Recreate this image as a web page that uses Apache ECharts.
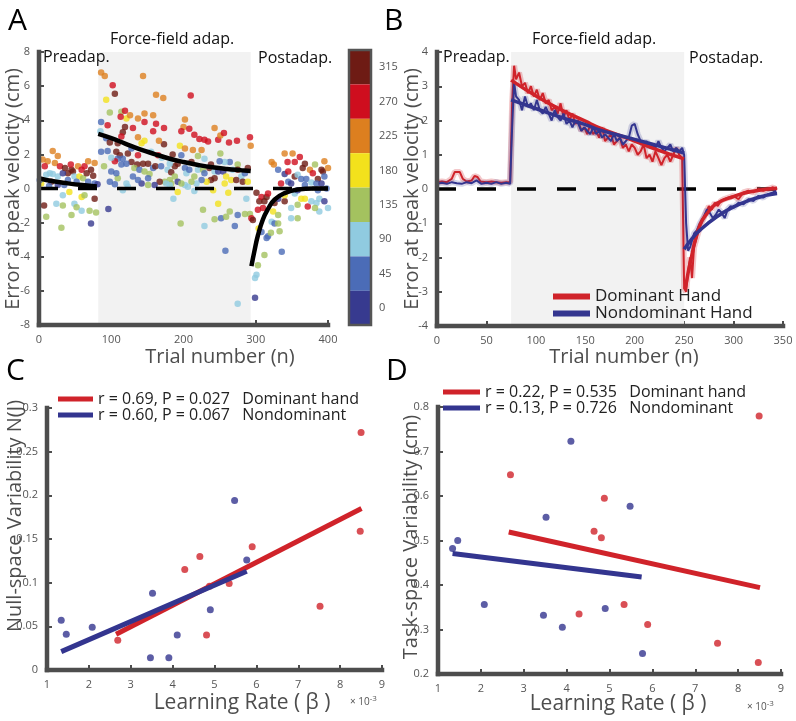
<!DOCTYPE html>
<html><head><meta charset="utf-8">
<script src="https://cdn.jsdelivr.net/npm/echarts/dist/echarts.min.js"></script>
<style>html,body{margin:0;padding:0;background:#fff}#c{width:796px;height:721px}</style>
</head><body><div id="c"></div>
<script>
// ---------- Panel A data: [trial, error (cm), direction (deg)] ----------
const directions = [0, 45, 90, 135, 180, 225, 270, 315];
const dirColors = ['#373a8f', '#4b6cb7', '#90cbe0', '#a4c25f', '#f3e11c', '#dd7f1f', '#cf0e1e', '#6e1b14'];

const preadapPts = [[5,1.7,225],[19,2.2,225],[12,1.6,225],[26,1.9,225],[22,1.5,225],[8,1.3,270],[29,1.3,270],[45,1.1,315],[40,0.9,315],[47,1.0,315],[54,1.3,225],[63,1.3,270],[68,1.6,225],[77,1.5,225],[72,1.1,315],[75,0.75,315],[15,0.9,90],[19,0.85,90],[26,0.7,90],[33,0.9,0],[35,0.2,45],[40,0.5,45],[49,0.7,90],[56,0.7,180],[61,0.6,135],[68,0.4,45],[77,0.3,45],[81,0.25,0],[3,0.3,180],[42,-0.2,180],[59,-0.5,180],[63,-0.4,135],[77,-0.6,315],[33,-0.4,90],[7,-1.0,315],[24,-0.9,90],[33,-1.0,135],[49,-0.9,90],[52,-1.1,135],[59,-1.3,90],[70,-1.3,135],[79,-1.4,135],[10,-1.65,135],[45,-1.55,135],[31,-2.3,135],[72,-2.05,0],[1,0.5,45],[10,0.8,90],[59,1.1,270],[52,0.4,45],[26,0.2,0],[17,0.4,315],[36,1.2,315],[44,1.4,270],[14,0.15,45],[66,0.9,315]];

const adaptPts = [[86,6.8,225],[91,6.6,225],[102,6.05,270],[105,5.55,315],[93,5.2,180],[98,4.45,135],[114,4.5,135],[119,4.55,270],[121,4.1,180],[113,4.2,270],[126,4.3,225],[144,6.6,225],[162,5.5,225],[172,5.3,225],[210,5.45,270],[146,4.4,225],[158,4.3,225],[137,4.1,225],[162,3.8,270],[146,3.9,270],[130,3.55,270],[119,3.6,315],[116,3.3,315],[114,3.05,270],[95,3.7,270],[86,3.9,45],[85,3.35,90],[93,2.95,45],[98,2.7,315],[109,2.65,315],[137,3.0,225],[142,2.65,180],[146,2.8,180],[158,3.35,270],[173,3.55,270],[173,2.6,315],[166,2.8,225],[202,4.05,225],[200,3.6,225],[208,3.5,270],[197,3.35,270],[215,3.15,270],[222,2.9,270],[229,2.85,270],[234,2.75,270],[243,3.55,225],[248,2.85,270],[251,3.1,225],[256,3.25,270],[263,2.7,270],[274,2.8,270],[292,3.0,270],[293,2.5,225],[251,2.05,135],[195,2.5,180],[202,2.35,225],[213,2.25,225],[225,2.25,225],[229,1.75,90],
[86,2.15,45],[95,2.2,45],[107,2.15,315],[112,1.95,315],[116,1.75,45],[123,2.05,315],[128,1.55,315],[136,1.4,315],[144,1.45,315],[151,1.45,315],[121,1.45,45],[114,1.4,45],[109,1.75,45],[105,1.6,270],[132,1.2,135],[139,1.1,45],[146,1.0,135],[153,0.85,135],[151,0.6,45],[158,1.2,45],[161,1.3,315],[169,1.3,45],[178,1.1,90],[183,0.95,315],[188,1.3,315],[192,1.45,315],[181,1.45,90],[174,0.4,135],[181,0.5,135],[188,0.7,135],[192,0.4,0],[202,1.2,45],[204,0.9,90],[208,1.1,45],[215,0.7,135],[220,1.1,90],[227,1.1,135],[229,0.9,45],[236,1.2,315],[243,1.0,90],[248,1.0,0],[255,1.0,0],[259,0.7,180],[264,1.55,45],[266,0.5,180],[275,1.4,135],[280,0.7,90],[282,0.4,315],[289,0.4,180],[285,0.9,45],[273,0.5,315],[257,0.3,180],[243,0.6,315],[238,0.5,315],[232,0.4,180],[225,0.5,45],[218,0.3,90],[211,0.4,135],[206,0.1,90],[202,0.2,90],[197,0.3,135],[183,0.3,135],[176,0.3,90],[167,0.4,315],[160,0.2,0],[151,0.2,135],[142,0.3,0],[137,0.5,45],[130,0.7,45],[121,0.3,90],[116,-0.1,90],[123,0.1,90],[98,0.4,45],[109,0.6,135],[105,0.25,45],[100,1.0,45],[107,0.9,45],[181,0.2,90],[186,-0.6,90],[192,-0.2,180],[215,-0.15,90],[241,-0.1,180],[262,-0.25,180],[287,-0.6,90],[248,-0.9,180],[227,-1.25,135],[243,-1.8,135],[252,-1.75,45],[259,-1.65,135],[264,-1.35,135],[275,-1.55,45],[285,-1.5,135],[292,-1.5,135],[229,-2.2,90],[271,-2.2,45],[196,-2.05,135],[96,-1.2,0],[258,-3.65,45],[275,-6.75,90],
[128,2.35,45],[137,1.95,270],[155,2.15,90],[165,1.95,270],[197,1.95,45],[211,1.55,315],[238,1.4,315],[257,1.55,90],[275,1.1,315],[289,1.2,315],[90,1.3,135],[100,1.8,90],[170,1.8,90],[185,2.0,315],[220,1.9,135],[250,1.6,45],[268,1.1,90]];

const postadapPts = [[294,-1.75,270],[296,-1.85,315],[301,-0.25,315],[305,-0.75,315],[308,-0.5,270],[303,-1.25,270],[310,-1.15,270],[312,-0.75,315],[315,-0.5,315],[317,-0.3,270],[304,-2.35,180],[308,-2.55,45],[317,-2.8,45],[315,-2.9,45],[321,-2.6,135],[324,-1.35,180],[322,-1.95,90],[326,-2.05,45],[331,-1.55,135],[331,-2.05,135],[333,-2.5,135],[312,-3.9,135],[303,-4.5,135],[301,-5.05,90],[299,-5.25,90],[299,-6.4,0],[336,-3.7,45],
[322,1.55,225],[325,1.4,225],[340,2.05,225],[344,1.55,270],[351,2.05,225],[354,1.55,270],[361,1.85,270],[368,1.45,315],[331,1.1,45],[340,0.85,0],[345,0.4,45],[349,0.3,0],[354,0.7,315],[358,0.8,90],[363,0.55,45],[370,0.55,45],[375,1.1,225],[379,0.9,270],[382,1.4,135],[391,1.1,315],[393,1.0,315],[395,0.7,45],[400,1.2,225],[377,0.35,90],[386,0.55,315],[368,0.2,45],[384,0.3,45],[391,0.3,0],[398,0.0,45],
[326,-0.85,315],[331,-0.6,0],[340,-0.75,315],[349,-1.15,90],[358,-0.95,135],[363,-0.6,180],[368,-0.6,180],[372,-1.05,270],[377,-0.75,90],[384,-0.85,90],[388,-0.6,90],[395,-0.75,0],[400,-1.15,90],[388,-1.35,90],[358,-1.75,135],[349,-1.75,90],[382,-1.15,135],[386,-0.1,45],[354,-0.3,90],[358,-0.1,0],[340,-0.4,180],[335,0.3,270],[345,1.0,270],[365,1.2,315],[395,1.6,225]];

const fitPreA = [[0,0.6],[20,0.42],[40,0.3],[60,0.2],[80,0.12]];
const fitAdaptA = [[82,3.2],[100,2.95],[120,2.62],[140,2.3],[160,2.02],[180,1.76],[200,1.55],[220,1.38],[240,1.24],[260,1.14],[280,1.07],[293,1.03]];
const fitPostA = [[294,-4.55],[298,-3.7],[303,-2.75],[310,-1.8],[317,-1.2],[326,-0.65],[340,-0.27],[358,-0.06],[380,0],[400,0]];
const zeroLineA = [[0,0],[400,0]];
const phaseA = [82, 293];

// ---------- Panel B data: [trial, error (cm)] ----------
const domRaw = [[0,0.2],[5,0.22],[10,0.2],[15,0.3],[18,0.5],[20,0.45],[23,0.5],[26,0.3],[30,0.22],[35,0.25],[38,0.38],[41,0.35],[44,0.22],[50,0.2],[55,0.22],[60,0.2],[65,0.18],[70,0.2],[74,0.2],
[76,2.5],[78,3.6],[80,3.2],[83,3.4],[86,3.0],[89,3.1],[92,2.8],[95,3.0],[98,2.7],[101,2.9],[104,2.6],[107,2.8],[110,2.5],[113,2.6],[116,2.3],[119,2.4],[122,2.2],[125,2.5],[128,2.1],[131,2.3],[134,2.0],[137,2.2],[140,1.9],[143,2.0],[146,1.7],[149,1.8],[152,1.6],[155,1.9],[158,1.6],[161,1.7],[164,1.5],[167,1.8],[170,1.4],[173,1.5],[176,1.6],[179,1.3],[182,1.4],[185,1.5],[188,1.2],[191,1.3],[194,1.1],[197,1.3],[200,1.2],[203,1.0],[206,1.1],[209,1.3],[212,0.9],[215,1.0],[218,0.8],[221,1.1],[224,0.9],[227,0.7],[230,0.9],[233,1.0],[236,0.8],[239,1.0],[242,1.2],[245,1.0],[248,0.9],
[250,-2.9],[252,-3.0],[254,-2.4],[256,-2.0],[258,-2.6],[260,-1.7],[263,-1.4],[266,-1.1],[269,-0.9],[272,-0.7],[275,-0.5],[278,-0.6],[281,-0.4],[284,-0.5],[287,-0.35],[290,-0.3],[295,-0.25],[300,-0.2],[305,-0.3],[310,-0.1],[315,-0.05],[320,-0.1],[325,0.0],[330,-0.05],[335,0.0],[340,0.05],[343,-0.05]];
const nondomRaw = [[0,0.15],[5,0.18],[10,0.15],[15,0.2],[20,0.17],[25,0.15],[30,0.2],[35,0.17],[40,0.25],[42,0.2],[45,0.15],[50,0.18],[55,0.15],[60,0.2],[65,0.15],[70,0.18],[74,0.15],
[76,1.8],[78,3.1],[80,2.7],[83,2.6],[86,2.3],[89,2.7],[92,2.4],[95,2.5],[98,2.3],[101,2.6],[104,2.3],[107,2.2],[110,2.4],[113,2.2],[116,2.0],[119,2.3],[122,2.1],[125,2.0],[128,2.2],[131,1.9],[134,2.0],[137,1.8],[140,2.0],[143,1.9],[146,1.7],[149,1.8],[152,1.7],[155,1.6],[158,1.8],[161,1.6],[164,1.7],[167,1.5],[170,1.6],[173,1.5],[176,1.4],[179,1.6],[182,1.4],[185,1.5],[188,1.3],[191,1.4],[194,1.5],[197,1.85],[200,1.9],[203,1.6],[206,1.4],[209,1.3],[212,1.4],[215,1.2],[218,1.3],[221,1.2],[224,1.4],[227,1.2],[230,1.1],[233,1.2],[236,1.3],[239,1.1],[242,1.2],[245,1.1],[248,1.2],[250,1.0],
[252,-1.0],[254,-1.8],[256,-1.7],[258,-1.5],[260,-1.3],[263,-1.2],[266,-1.0],[270,-0.8],[273,-0.6],[276,-0.7],[279,-0.85],[282,-0.75],[285,-0.6],[288,-0.7],[291,-0.85],[294,-0.6],[297,-0.5],[300,-0.55],[305,-0.4],[310,-0.45],[315,-0.3],[320,-0.35],[325,-0.2],[330,-0.25],[335,-0.15],[340,-0.1],[343,-0.05]];
const domFitAdapt = [[75,3.18],[100,2.72],[125,2.32],[150,1.98],[165,1.78],[200,1.4],[225,1.12],[250,0.88]];
const nondomFitAdapt = [[75,2.6],[100,2.35],[125,2.1],[150,1.88],[165,1.72],[200,1.45],[225,1.25],[250,1.05]];
const domFitPost = [[251,-2.93],[258,-1.9],[266,-1.05],[275,-0.65],[283,-0.42],[300,-0.22],[317,-0.08],[344,0.02]];
const nondomFitPost = [[250,-1.76],[258,-1.45],[266,-1.2],[283,-0.81],[300,-0.52],[317,-0.32],[334,-0.18],[344,-0.13]];
const zeroLineB = [[0,0],[350,0]];
const phaseB = [75, 250];

// ---------- Panel C / D data: [learning rate (x1e-3), variability] ----------
const nullDom = [[2.69,0.034],[4.29,0.115],[4.65,0.130],[4.81,0.040],[4.88,0.096],[5.35,0.099],[5.90,0.141],[7.52,0.073],[8.48,0.159],[8.50,0.272]];
const nullNondom = [[1.34,0.057],[1.46,0.041],[2.08,0.049],[3.47,0.014],[3.52,0.088],[3.91,0.014],[4.11,0.040],[4.90,0.069],[5.48,0.194],[5.77,0.126]];
const nullDomFit = [[2.65,0.041],[8.51,0.185]];
const nullNondomFit = [[1.34,0.021],[5.77,0.113]];
const taskDom = [[2.69,0.648],[4.29,0.335],[4.64,0.521],[4.81,0.506],[4.88,0.595],[5.34,0.356],[5.89,0.311],[7.52,0.269],[8.47,0.226],[8.49,0.780]];
const taskNondom = [[1.34,0.482],[1.46,0.500],[2.08,0.356],[3.46,0.332],[3.52,0.552],[3.90,0.305],[4.10,0.723],[4.90,0.347],[5.48,0.577],[5.77,0.246]];
const taskDomFit = [[2.65,0.519],[8.51,0.394]];
const taskNondomFit = [[1.34,0.471],[5.75,0.418]];

const legendC = ['r = 0.69, P = 0.027   Dominant hand', 'r = 0.60, P = 0.067   Nondominant'];
const legendD = ['r = 0.22, P = 0.535   Dominant hand', 'r = 0.13, P = 0.726   Nondominant'];

// axis ranges [xmin, xmax, xstep, ymin, ymax, ystep]
const axesA = [0, 400, 100, -8, 8, 2];
const axesB = [0, 350, 50, -4, 4, 1];
const axesC = [1, 9, 1, 0, 0.3, 0.05];
const axesD = [1, 9, 1, 0.2, 0.8, 0.1];
const allAxes = [axesA, axesB, axesC, axesD];

// ---------- styling ----------
const FONT = 'Open Sans';
const RED = '#d0232a', BLUE = '#33358f';
const AXC = '#4d4d4d';

function axis(gi, min, max, interval) {
  return {
    type: 'value', gridIndex: gi, min, max, interval,
    axisLine: { show: true, onZero: false, lineStyle: { color: AXC, width: 4 } },
    axisTick: { show: true, inside: true, length: 5, lineStyle: { color: AXC, width: 2 } },
    axisLabel: { color: '#555', fontSize: 11, fontFamily: FONT, margin: 9 },
    splitLine: { show: false }
  };
}

const series = [];
// Panel A
series.push({ type: 'line', xAxisIndex: 0, yAxisIndex: 0, data: [], z: 0, silent: true,
  markArea: { silent: true, itemStyle: { color: '#f2f2f2' }, data: [[{ xAxis: phaseA[0], yAxis: axesA[3] }, { xAxis: phaseA[1], yAxis: axesA[4] }]] } });
series.push({ type: 'scatter', name: 'trials', xAxisIndex: 0, yAxisIndex: 0, symbolSize: 6.5,
  data: preadapPts.concat(adaptPts, postadapPts), z: 2 });
series.push({ type: 'line', xAxisIndex: 0, yAxisIndex: 0, data: zeroLineA, showSymbol: false, z: 3,
  lineStyle: { color: '#000', width: 3.5, type: [19, 20] } });
[fitPreA, fitAdaptA, fitPostA].forEach(d => series.push({ type: 'line', xAxisIndex: 0, yAxisIndex: 0, data: d, smooth: true, showSymbol: false, z: 4,
  lineStyle: { color: '#000', width: 4.5 } }));
// Panel B
series.push({ type: 'line', xAxisIndex: 1, yAxisIndex: 1, data: [], z: 0, silent: true,
  markArea: { silent: true, itemStyle: { color: '#f2f2f2' }, data: [[{ xAxis: phaseB[0], yAxis: axesB[3] }, { xAxis: phaseB[1], yAxis: axesB[4] }]] } });
series.push({ type: 'line', xAxisIndex: 1, yAxisIndex: 1, data: zeroLineB, showSymbol: false, z: 2,
  lineStyle: { color: '#000', width: 3.5, type: [19, 21] } });
series.push({ type: 'line', xAxisIndex: 1, yAxisIndex: 1, data: domRaw, showSymbol: false, z: 3, lineStyle: { color: RED, width: 6, opacity: 0.25 } });
series.push({ type: 'line', name: 'Dominant Hand', color: RED, xAxisIndex: 1, yAxisIndex: 1, data: domRaw, showSymbol: false, z: 3, lineStyle: { color: RED, width: 2 } });
series.push({ type: 'line', xAxisIndex: 1, yAxisIndex: 1, data: nondomRaw, showSymbol: false, z: 3, lineStyle: { color: BLUE, width: 6, opacity: 0.2 } });
series.push({ type: 'line', name: 'Nondominant Hand', color: BLUE, xAxisIndex: 1, yAxisIndex: 1, data: nondomRaw, showSymbol: false, z: 3, lineStyle: { color: BLUE, width: 2 } });
[[domFitAdapt, RED], [nondomFitAdapt, BLUE], [domFitPost, RED], [nondomFitPost, BLUE]].forEach(([d, c]) =>
  series.push({ type: 'line', xAxisIndex: 1, yAxisIndex: 1, data: d, smooth: true, showSymbol: false, z: 4, lineStyle: { color: c, width: 3.5 } }));
// Panel C
series.push({ type: 'scatter', xAxisIndex: 2, yAxisIndex: 2, data: nullDom, symbolSize: 7, itemStyle: { color: RED }, z: 3 });
series.push({ type: 'scatter', xAxisIndex: 2, yAxisIndex: 2, data: nullNondom, symbolSize: 7, itemStyle: { color: BLUE }, z: 3 });
series.push({ type: 'line', name: legendC[0], color: RED, xAxisIndex: 2, yAxisIndex: 2, data: nullDomFit, showSymbol: false, z: 4, lineStyle: { color: RED, width: 5 } });
series.push({ type: 'line', name: legendC[1], color: BLUE, xAxisIndex: 2, yAxisIndex: 2, data: nullNondomFit, showSymbol: false, z: 4, lineStyle: { color: BLUE, width: 5 } });
// Panel D
series.push({ type: 'scatter', xAxisIndex: 3, yAxisIndex: 3, data: taskDom, symbolSize: 7, itemStyle: { color: RED }, z: 3 });
series.push({ type: 'scatter', xAxisIndex: 3, yAxisIndex: 3, data: taskNondom, symbolSize: 7, itemStyle: { color: BLUE }, z: 3 });
series.push({ type: 'line', name: legendD[0], color: RED, xAxisIndex: 3, yAxisIndex: 3, data: taskDomFit, showSymbol: false, z: 4, lineStyle: { color: RED, width: 5 } });
series.push({ type: 'line', name: legendD[1], color: BLUE, xAxisIndex: 3, yAxisIndex: 3, data: taskNondomFit, showSymbol: false, z: 4, lineStyle: { color: BLUE, width: 5 } });

function txt(text, left, top, size, color) {
  return { type: 'text', left, top, z: 50, style: { text, fontSize: size, fontFamily: FONT, fill: color || '#111' } };
}
function ctxt(text, x, y, size, rot) {
  return { type: 'text', x, y, rotation: rot || 0, z: 50,
    style: { text, fontSize: size, fontFamily: FONT, fill: '#4d4d4d', align: 'center', verticalAlign: 'middle' } };
}
const sup = (l, t) => ({ type: 'text', left: l, top: t, z: 50, style: { rich: { a: { fontSize: 10, fontFamily: FONT, fill: '#555' }, b: { fontSize: 8, fontFamily: FONT, fill: '#555', verticalAlign: 'top', padding: [0,0,6,0] } }, text: '{a|× 10}{b|-3}' } });

const legendBase = { orient: 'vertical', selectedMode: false, padding: 0, icon: 'rect',
  textStyle: { color: '#222', fontFamily: FONT } };

const graphics = [
  txt('A', 8, 6, 30, '#000'), txt('B', 384, 6, 30, '#000'),
  txt('C', 6, 356, 30, '#000'), txt('D', 386, 356, 30, '#000'),
  txt('Preadap.', 43, 49, 16), txt('Force-field adap.', 110, 31, 16), txt('Postadap.', 258, 50, 16),
  txt('Preadap.', 443, 49, 16), txt('Force-field adap.', 532, 31, 16), txt('Postadap.', 689, 50, 16),
  ctxt('Error at peak velocity (cm)', 13, 189, 20, Math.PI / 2),
  ctxt('Error at peak velocity (cm)', 412, 189, 20, Math.PI / 2),
  ctxt('Null-space Variability N(J)', 15, 516, 20, Math.PI / 2),
  ctxt('Task-space Variability (cm)', 411, 537, 20, Math.PI / 2),
  ctxt('Trial number (n)', 220, 357, 20), ctxt('Trial number (n)', 624, 357, 20),
  ctxt('Learning Rate ( β )', 242, 703, 21), ctxt('Learning Rate ( β )', 618, 704, 21),
  sup(350, 695), sup(747, 700),
  { type: 'rect', z: 40, shape: { x: 349, y: 50, width: 22, height: 275 }, style: { fill: 'none', stroke: '#555', lineWidth: 2.5 } }
];

const option = {
  animation: false,
  backgroundColor: '#fff',
  grid: [
    { left: 39, top: 52, width: 289, height: 273 },
    { left: 437, top: 52, width: 346, height: 274 },
    { left: 47, top: 408, width: 335, height: 262 },
    { left: 438, top: 407, width: 343, height: 267 }
  ],
  xAxis: allAxes.map((a, i) => axis(i, a[0], a[1], a[2])),
  yAxis: allAxes.map((a, i) => axis(i, a[3], a[4], a[5])),
  visualMap: [{
    type: 'piecewise', seriesIndex: 1, dimension: 2, orient: 'vertical',
    left: 349, top: 50, itemWidth: 22, itemHeight: 34.4, itemGap: 0, itemSymbol: 'rect',
    padding: 0, textGap: 8, selectedMode: false, hoverLink: false,
    textStyle: { color: '#555', fontSize: 11, fontFamily: FONT },
    pieces: directions.map((d, i) => ({ value: d, label: String(d), color: dirColors[i] }))
  }],
  legend: [
    Object.assign({}, legendBase, { data: ['Dominant Hand', 'Nondominant Hand'], left: 553, top: 288, itemWidth: 37, itemHeight: 6, itemGap: 0,
      textStyle: Object.assign({}, legendBase.textStyle, { fontSize: 17 }) }),
    Object.assign({}, legendBase, { data: legendC, left: 58, top: 391, itemWidth: 35, itemHeight: 5, itemGap: 0,
      textStyle: Object.assign({}, legendBase.textStyle, { fontSize: 16 }) }),
    Object.assign({}, legendBase, { data: legendD, left: 443, top: 384, itemWidth: 37, itemHeight: 5, itemGap: 0,
      textStyle: Object.assign({}, legendBase.textStyle, { fontSize: 16 }) })
  ],
  graphic: graphics,
  series
};
const chart = echarts.init(document.getElementById('c'), null, { renderer: 'canvas' });
chart.setOption(option);

// heavy left/bottom axis frame, positioned through the library's own axis scales
const frameLines = [];
allAxes.forEach((ax, gi) => {
  const p0 = chart.convertToPixel({ gridIndex: gi }, [ax[0], ax[3]]);
  const pTop = chart.convertToPixel({ gridIndex: gi }, [ax[0], ax[4]]);
  const pRight = chart.convertToPixel({ gridIndex: gi }, [ax[1], ax[3]]);
  const st = { stroke: AXC, lineWidth: 4.5, lineCap: 'square' };
  frameLines.push({ type: 'line', z: 45, silent: true, shape: { x1: p0[0], y1: p0[1], x2: pTop[0], y2: pTop[1] }, style: st });
  frameLines.push({ type: 'line', z: 45, silent: true, shape: { x1: p0[0], y1: p0[1], x2: pRight[0], y2: pRight[1] }, style: st });
});
chart.setOption({ graphic: graphics.concat(frameLines) });
</script></body></html>
